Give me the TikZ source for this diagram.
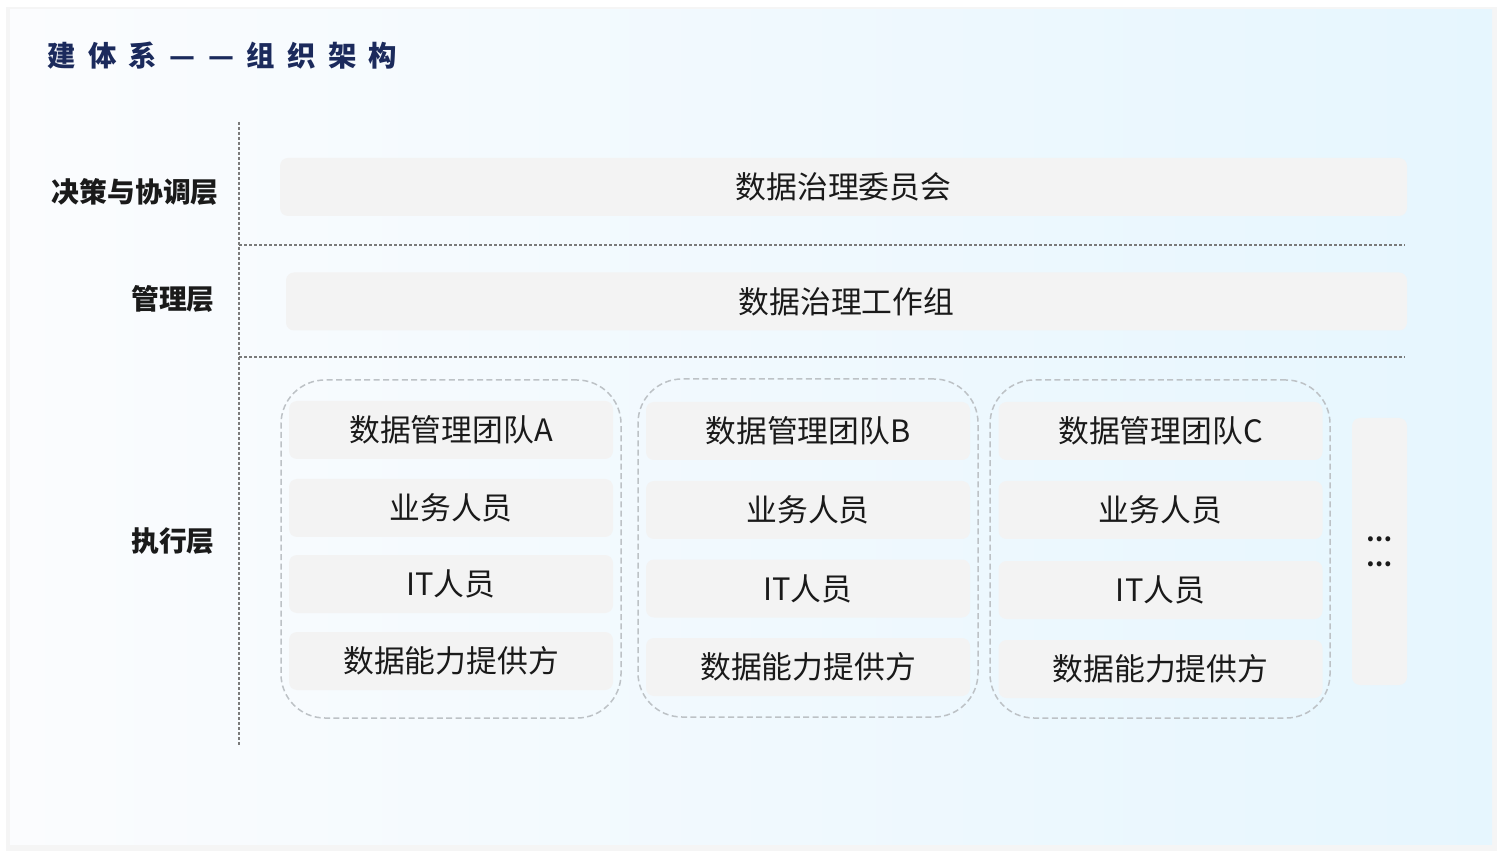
\documentclass[tikz,border=0pt]{standalone}
\usepackage{fontspec}
\setmainfont{Noto Sans CJK SC}
\newfontfamily\titlefont{Noto Sans CJK SC}
\newcommand{\tgap}{\hspace{6.2pt}}
\usepackage{tikz}
\usetikzlibrary{positioning}

\definecolor{cardL}{HTML}{FBFCFE}
\definecolor{cardR}{HTML}{E6F6FE}
\definecolor{cellgray}{HTML}{F3F3F3}
\definecolor{navy}{HTML}{1B2A5C}
\definecolor{txt}{HTML}{1A1A1A}
\definecolor{groupline}{HTML}{BDC2C6}
\definecolor{layerline}{HTML}{7A7A7A}

\begin{document}
\begin{tikzpicture}
			[
				x=0.5pt, y=-0.5pt,
				align=center,
				title/.style={anchor=west, inner sep=0pt, text=navy, font=\titlefont\bfseries\fontsize{14.2}{16}\selectfont},
				layer/.style={anchor=east, inner sep=0pt, text=txt, font=\bfseries\fontsize{13.9}{16}\selectfont},
				bar/.style={fill=cellgray, rounded corners=4pt, minimum height=29pt, text=txt, font=\fontsize{15.4}{18}\selectfont},
				cell/.style={bar, minimum width=162pt},
				group/.style={draw=groupline, line width=0.75pt, dash pattern=on 3pt off 1.7pt, rounded corners=22pt, minimum width=170pt, minimum height=169pt},
				divider/.style={draw=layerline, line width=0.6pt, dash pattern=on 1.5pt off 1pt}
			]
			\useasboundingbox (0,0) rectangle (1502,854);

			% card
			\fill[black!7] (8,9) rectangle (1495,848);
			\fill[black!4] (6,7) rectangle (1497,851);
			\shade[left color=cardL, right color=cardR] (10,10) rectangle (1492,844);

			% title
			\node[title] (title) at (47,56) {建\tgap 体\tgap 系\tgap —\tgap —\tgap 组\tgap 织\tgap 架\tgap 构};

			% layer names
			\node[layer] (decide) at (219,192) {决策与协调层};
			\node[layer] (manage) at (215,299) {管理层};
			\node[layer] (exec) at (215,541) {执行层};

			% layer dividers
			\coordinate (vtop) at (239,122);
			\coordinate (vbot) at (239,747);
			\coordinate (d1l) at (239,245);
			\coordinate (d1r) at (1405,245);
			\coordinate (d2l) at (239,357);
			\coordinate (d2r) at (1405,357);
			\draw[divider] (vtop) -- (vbot);
			\foreach \from/\to in {d1l/d1r,d2l/d2r}
			\draw[divider] (\from) -- (\to);

			% committee and working group
			\node[bar, minimum width=563.5pt] (committee) at (843.5,187) {数据治理委员会};
			\node[bar, minimum width=560.5pt] (workgroup) at (846.5,301.5) {数据治理工作组};

			% team groups
			\node[group] (groupA) at (451,549) {};
			\node[group] (groupB) at (808,548) {};
			\node[group] (groupC) at (1160,549) {};

			% team A
			\node[cell] (teamA) at (451,430) {数据管理团队A};
			\node[cell] (bizA) at (451,508) {业务人员};
			\node[cell] (itA) at (451,584) {IT人员};
			\node[cell] (dataA) at (451,661) {数据能力提供方};

			% team B
			\node[cell] (teamB) at (808,431) {数据管理团队B};
			\node[cell] (bizB) at (808,510) {业务人员};
			\node[cell] (itB) at (808,588.5) {IT人员};
			\node[cell] (dataB) at (808,667) {数据能力提供方};

			% team C
			\node[cell] (teamC) at (1160.5,431) {数据管理团队C};
			\node[cell] (bizC) at (1160.5,510) {业务人员};
			\node[cell] (itC) at (1160.5,590) {IT人员};
			\node[cell] (dataC) at (1160.5,669) {数据能力提供方};

			% more teams
			\node[bar, minimum width=27.5pt, minimum height=133.5pt, font=\bfseries\fontsize{11.5}{12.5}\selectfont] (more) at (1379.5,551.5) {…\\…};

		\end{tikzpicture}
\end{document}
